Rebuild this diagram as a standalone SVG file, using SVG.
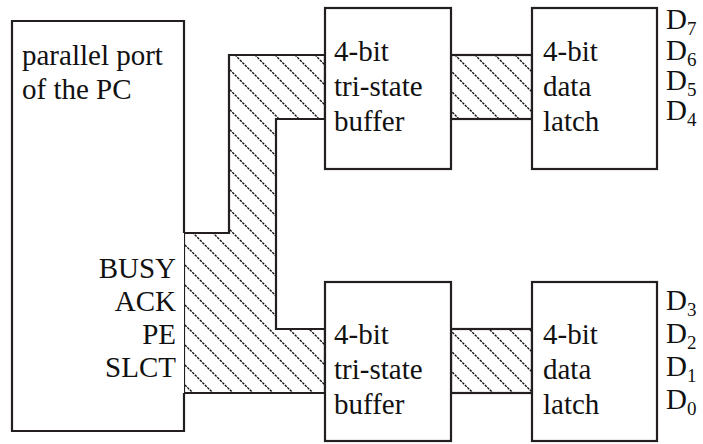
<svg xmlns="http://www.w3.org/2000/svg" width="703" height="444" viewBox="0 0 703 444">
<style>
.box{fill:#fff;stroke:#231f20;stroke-width:2.2}
.bus{fill:url(#hatch);stroke:#231f20;stroke-width:2.2}
text{font-family:'Liberation Serif','Times New Roman',serif;font-size:29px;fill:#111}
.sub{font-size:19px}
</style>
<defs>
<pattern id="hatch" patternUnits="userSpaceOnUse" width="20" height="20">
<rect width="20" height="20" fill="#fff"/>
<path d="M-5,-5 L25,25 M-5,15 L5,25 M15,-5 L25,5" stroke="#111" stroke-width="1.4" stroke-dasharray="2.5,1"/>
</pattern>
</defs>
<g id="connectors">
<polygon class="bus" points="229,55 325,55 325,119 276,119 276,329 325,329 325,393 184,393 184,233 229,233"/>
<rect class="bus" x="451" y="55" width="81" height="64"/>
<rect class="bus" x="451" y="329" width="81" height="64"/>
</g>
<g id="pc">
<path class="box" d="M184,233 L184,21 L12,21 L12,431 L184,431 L184,393" fill="none"/>
<text x="22" y="65">parallel port</text>
<text x="22" y="99">of the PC</text>
<text x="176" y="278" text-anchor="end">BUSY</text>
<text x="176" y="311" text-anchor="end">ACK</text>
<text x="176" y="344" text-anchor="end">PE</text>
<text x="176" y="377" text-anchor="end">SLCT</text>
</g>
<g id="buffer-top">
<rect class="box" x="325" y="8" width="126" height="161"/>
<text x="334" y="61">4-bit</text>
<text x="334" y="96">tri-state</text>
<text x="334" y="131">buffer</text>
</g>
<g id="latch-top">
<rect class="box" x="532" y="8" width="125" height="161"/>
<text x="543" y="61">4-bit</text>
<text x="543" y="96">data</text>
<text x="543" y="131">latch</text>
</g>
<g id="buffer-bottom">
<rect class="box" x="325" y="282" width="126" height="159"/>
<text x="334" y="344">4-bit</text>
<text x="334" y="379">tri-state</text>
<text x="334" y="414">buffer</text>
</g>
<g id="latch-bottom">
<rect class="box" x="532" y="282" width="125" height="159"/>
<text x="543" y="344">4-bit</text>
<text x="543" y="379">data</text>
<text x="543" y="414">latch</text>
</g>
<g id="data-lines">
<text x="666" y="29">D<tspan class="sub" dy="6">7</tspan></text>
<text x="666" y="60">D<tspan class="sub" dy="6">6</tspan></text>
<text x="666" y="90">D<tspan class="sub" dy="6">5</tspan></text>
<text x="666" y="120">D<tspan class="sub" dy="6">4</tspan></text>
<text x="666" y="310">D<tspan class="sub" dy="6">3</tspan></text>
<text x="666" y="343">D<tspan class="sub" dy="6">2</tspan></text>
<text x="666" y="376">D<tspan class="sub" dy="6">1</tspan></text>
<text x="666" y="409">D<tspan class="sub" dy="6">0</tspan></text>
</g>
</svg>
